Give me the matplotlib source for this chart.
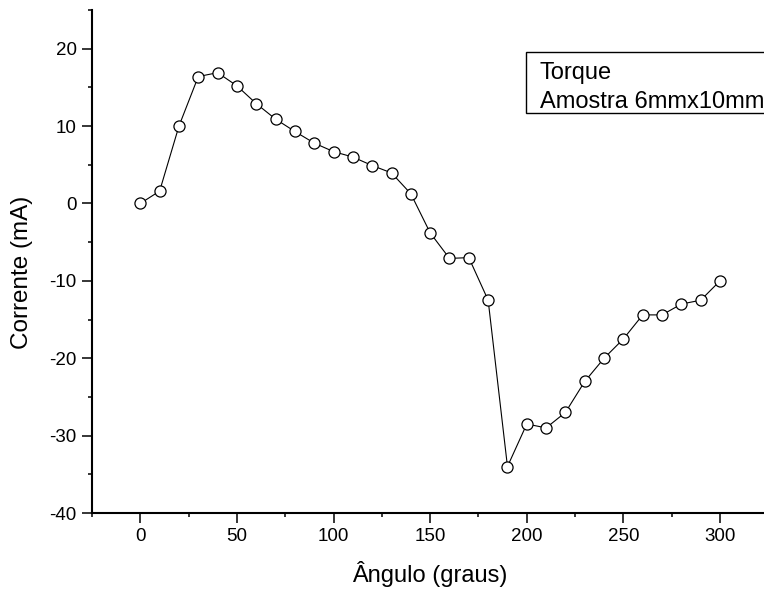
import matplotlib.pyplot as plt
from matplotlib.patches import Rectangle
from matplotlib.ticker import MultipleLocator

plt.rcParams['font.family'] = ['Liberation Sans', 'DejaVu Sans']
plt.rcParams['axes.unicode_minus'] = False

# Dati
angulo = [0, 10, 20, 30, 40, 50, 60, 70, 80, 90, 100, 110, 120, 130, 140, 150,
          160, 170, 180, 190, 200, 210, 220, 230, 240, 250, 260, 270, 280, 290, 300]
corrente = [0, 1.6, 10, 16.4, 16.9, 15.2, 12.9, 10.9, 9.3, 7.8, 6.7, 6.0, 4.9, 3.95, 1.25, -3.8,
            -7.1, -7.0, -12.5, -34, -28.5, -29, -27, -23, -20, -17.5, -14.4, -14.4, -13, -12.5, -10]

legend_lines = ['Torque', 'Amostra 6mmx10mm']

fig = plt.figure(figsize=(7.64, 5.92), dpi=100)

# L'asse continua oltre il bordo destro dell'immagine
ax = fig.add_axes([92 / 764, 79 / 592, 686 / 764, 503 / 592])

ax.plot(
    angulo,
    corrente,
    color='black',
    linestyle='-',
    linewidth=0.8,
    marker='o',
    markersize=8,
    markerfacecolor='white',
    markeredgecolor='black',
    markeredgewidth=0.9,
    clip_on=False
    )

# Limiti assi
ax.set_xlim(-25, 330)
ax.set_ylim(-40, 25)

ax.xaxis.set_major_locator(MultipleLocator(50))
ax.xaxis.set_minor_locator(MultipleLocator(25))
ax.yaxis.set_major_locator(MultipleLocator(10))
ax.yaxis.set_minor_locator(MultipleLocator(5))
ax.set_yticks(range(-40, 21, 10))

# Solo assi sinistro e inferiore
for side in ['top', 'right']:
    ax.spines[side].set_visible(False)
for side in ['left', 'bottom']:
    ax.spines[side].set_linewidth(1.5)

ax.tick_params(which='major', direction='out', length=7, width=1.1, labelsize=13.5, pad=4)
ax.tick_params(which='minor', direction='out', length=3.2, width=1.1)

# Titoli assi
ax.set_xlabel('Ângulo (graus)', fontsize=17, labelpad=9)
ax.xaxis.set_label_coords((430 - 92) / 686, -0.095)
ax.set_ylabel('Corrente (mA)', fontsize=17.5)
ax.yaxis.set_label_coords(-(92 - 33) / 686, (592 - 272 - 79) / 503)

# Riquadro della legenda (aperto a destra come nell'originale)
fig.patches.append(Rectangle(
    (526 / 764, (592 - 113) / 592), 0.5, 61 / 592,
    transform=fig.transFigure, facecolor='white', edgecolor='black', linewidth=1.0
    ))
fig.text(540 / 764, 1 - 79 / 592, legend_lines[0], fontsize=17, va='baseline')
fig.text(540 / 764, 1 - 108.5 / 592, legend_lines[1], fontsize=17, va='baseline')

plt.savefig('out.png', dpi=100)
